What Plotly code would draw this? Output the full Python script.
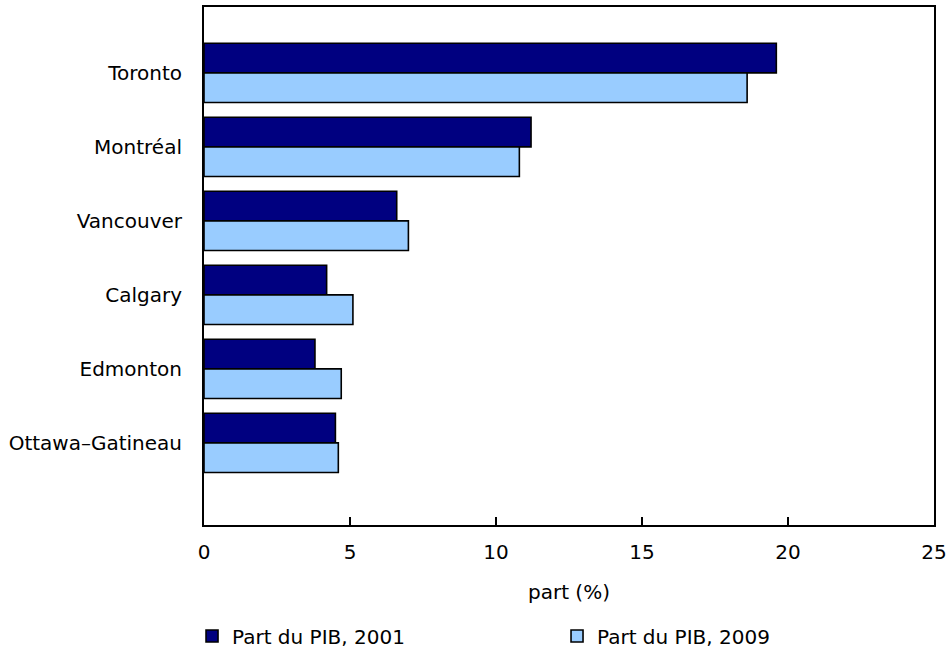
import plotly.graph_objects as go

cities = ["Toronto", "Montréal", "Vancouver", "Calgary", "Edmonton", "Ottawa–Gatineau"]
share_2001 = [19.6, 11.2, 6.6, 4.2, 3.8, 4.5]
share_2009 = [18.6, 10.8, 7.0, 5.1, 4.7, 4.6]
series_names = ["Part du PIB, 2001", "Part du PIB, 2009"]
x_ticks = [0, 5, 10, 15, 20, 25]

FONT = "DejaVu Sans, Verdana, sans-serif"
FS = 20
pos = list(range(len(cities)))

fig = go.Figure()
fig.add_trace(go.Bar(y=pos, x=share_2001, orientation="h", name=series_names[0],
                     marker=dict(color="#000080", line=dict(color="#000000", width=1.6))))
fig.add_trace(go.Bar(y=pos, x=share_2009, orientation="h", name=series_names[1],
                     marker=dict(color="#99CCFF", line=dict(color="#000000", width=1.6))))

fig.update_layout(
    width=951, height=651,
    margin=dict(l=204, r=17, t=7, b=126, autoexpand=False),
    paper_bgcolor="white", plot_bgcolor="white",
    font=dict(family=FONT, size=FS, color="#000000"),
    barmode="group", bargap=0.2, bargroupgap=0,
    showlegend=True,
    legend=dict(orientation="h", x=-0.0164, xanchor="left", y=-0.2143, yanchor="middle",
                entrywidth=320, traceorder="normal",
                font=dict(family=FONT, size=FS)),
    xaxis=dict(range=[0, 25], tickvals=x_ticks, ticks="inside", ticklen=8, tickwidth=1.5,
               tickcolor="#000000", showgrid=False, zeroline=False,
               showline=True, linecolor="#000000", linewidth=2, mirror=True,
               ticklabelstandoff=8, ticklabeloverflow="allow",
               title=dict(text="part (%)", standoff=22, font=dict(family=FONT, size=FS))),
    yaxis=dict(range=[6.11, -0.89], tickvals=pos, ticktext=cities, ticks="",
               showgrid=False, zeroline=False, showline=True, linecolor="#000000",
               linewidth=2, mirror=True, ticklabelstandoff=16),
)

fig.write_html("out.html", config={"displayModeBar": False},
               post_script="document.body.style.margin='0px';")
